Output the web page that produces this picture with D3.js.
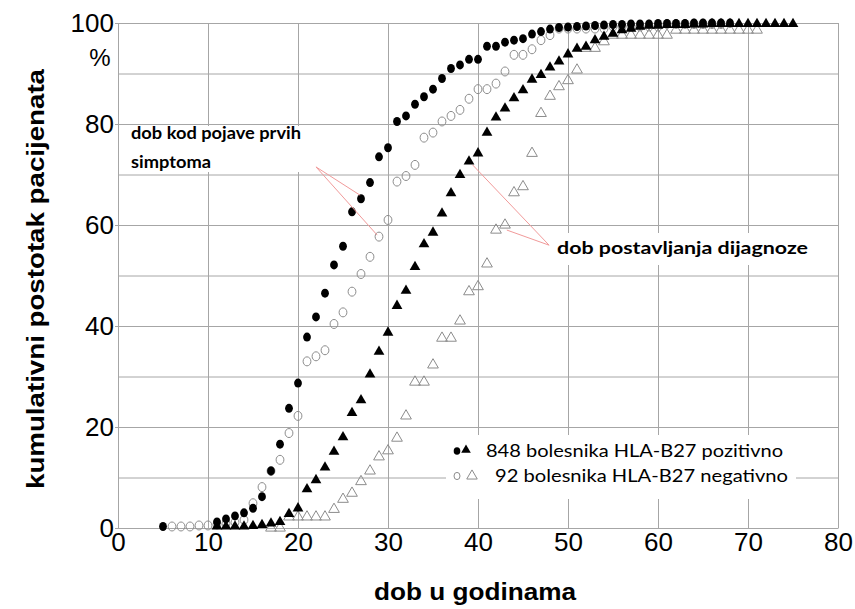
<!DOCTYPE html>
<html lang="hr">
<head>
<meta charset="UTF-8">
<title>Kumulativni postotak pacijenata</title>
<style>
    body { margin: 0; background: #fff; }
    #grafico { width: 855px; height: 609px; display: block; }
    .grid line { stroke: #a6a6a6; stroke-width: 1; }
    .grid path { display: none; }
    .os path, .os line { stroke: #a6a6a6; }
    .os text { font-family: "Liberation Sans", Arial, sans-serif; font-size: 26px; fill: #000; }
    .naslov { font-family: "Liberation Sans", Arial, sans-serif; font-weight: bold; font-size: 24px; }
    .biljeska { font-family: Lato, "Open Sans", sans-serif; font-weight: bold; font-size: 17px; }
    .legenda { font-family: Lato, "Open Sans", sans-serif; font-size: 18px; }
</style>
<script src="https://cdn.jsdelivr.net/npm/d3@7"></script>
</head>
<body>
<svg id="grafico"></svg>
<script>
    // kumulativni postotak po godinama (indeks 0 = pocetna dob)
    const posSimptomiOd = 5;
    const posSimptomi = [
        0.3, null, null, null, null, null,
        1.2, 1.8, 2.4, 3.0, 3.9, 6.2, 11.3, 16.6, 23.7, 28.7,
        37.8, 41.8, 46.5, 52.1, 55.8, 62.6, 65.2, 68.4, 73.5, 75.3,
        80.5, 81.6, 83.9, 85.4, 86.9, 89.0, 91.0, 91.7, 92.8, 92.8,
        95.4, 95.4, 96.2, 96.6, 96.9, 97.8, 98.3, 98.8, 99.1, 99.2,
        99.3, 99.4, 99.5, 99.6, 99.7, 99.7, 99.8, 99.8, 99.8, 99.9,
        99.9, 99.9, 99.9, 100, 100, 100, 100, 100
    ];

    const negSimptomiOd = 6;
    const negSimptomi = [
        0.3, 0.3, 0.3, 0.5, 0.5,
        0.7, 0.9, 1.1, 1.6, 4.9, 8.1, 11.3, 13.5, 18.8, 22.2,
        33.0, 34.0, 35.2, 40.4, 42.7, 46.8, 50.3, 53.7, 57.7, 61.0,
        68.6, 69.7, 71.9, 77.3, 78.3, 80.5, 81.6, 82.8, 85.0, 86.9,
        86.9, 88.0, 90.4, 93.7, 93.7, 94.8, 96.6, 97.6, 98.9, 98.9,
        98.9, 98.9, 98.9, 98.9, 99.3, 99.3, 99.3, 99.3, 99.3, 99.3,
        99.8, 99.8, 99.8, 99.8, 99.8, 99.8, 99.8
    ];

    const posDijagnozaOd = 11;
    const posDijagnoza = [
        0.3, 0.3, 0.3, 0.3, 0.4, 0.6, 0.9, 1.2, 2.8, 3.9,
        7.7, 9.5, 12.0, 15.1, 18.0, 22.8, 25.3, 30.4, 34.9, 38.7,
        44.0, 47.0, 51.7, 56.2, 58.5, 62.3, 66.3, 69.9, 72.6, 74.2,
        78.3, 81.3, 83.1, 85.1, 86.7, 88.8, 89.7, 91.2, 92.4, 93.8,
        94.9, 95.3, 96.6, 97.3, 97.9, 98.6, 98.9, 99.3, 99.5, 99.5,
        99.6, 99.6, 99.6, 99.7, 99.7, 99.8, 99.8, 99.8, 99.8, 99.8,
        99.8, 99.8, 99.8, 99.8, 99.8
    ];

    const negDijagnozaOd = 17;
    const negDijagnoza = [
        0, 0, 2.2, 2.2,
        2.2, 2.2, 2.2, 3.7, 5.7, 6.9, 9.2, 11.3, 14.1, 15.3,
        17.8, 22.2, 28.9, 28.9, 32.3, 37.6, 37.6, 41.0, 46.8, 47.8,
        52.3, 59.0, 60.0, 66.4, 67.6, 74.2, 82.1, 85.5, 87.4, 88.6,
        90.7, 95.0, 95.0, 96.3, 97.6, 97.6, 97.6, 97.6, 97.6, 97.6,
        97.6, 98.6, 98.6, 98.6, 98.6, 98.6, 98.6, 98.6, 98.6, 98.6, 98.6
    ];

    const xOznake = [0, 10, 20, 30, 40, 50, 60, 70, 80];
    const yOznake = [0, 20, 40, 60, 80, 100];
    const legendaTekst = ['848 bolesnika HLA-B27 pozitivno', '92 bolesnika HLA-B27 negativno'];

    let svg = d3.select('#grafico');
    let fnX = d3.scaleLinear().domain([0, 80]).range([118, 838]);
    let fnY = d3.scaleLinear().domain([0, 100]).range([528, 23]);

    let tocke = (od, vrijednosti) => vrijednosti
        .map((v, i) => ({ dob: od + i, v: v }))
        .filter(d => d.v !== null);

    // mreza
    svg.append('g').classed('grid', true)
        .attr('transform', `translate(${fnX(0)},0)`)
        .call(d3.axisLeft(fnY).ticks(10).tickSize(-(fnX(80) - fnX(0))).tickFormat(''));
    svg.append('g').classed('grid', true)
        .attr('transform', `translate(0,${fnY(0)})`)
        .call(d3.axisBottom(fnX).ticks(8).tickSize(-(fnY(0) - fnY(100))).tickFormat(''));

    // osi
    svg.append('g').classed('os', true)
        .attr('transform', `translate(${fnX(0)},0)`)
        .call(d3.axisLeft(fnY).tickValues(yOznake).tickSize(3).tickPadding(1));
    svg.append('g').classed('os', true)
        .attr('transform', `translate(0,${fnY(0)})`)
        .call(d3.axisBottom(fnX).tickValues(xOznake).tickSize(0).tickPadding(5));

    svg.append('text').text('%')
        .attr('x', 100).attr('y', 66)
        .attr('text-anchor', 'middle')
        .style('font-family', '"Liberation Sans", Arial, sans-serif')
        .style('font-size', '24px');

    svg.append('text').classed('naslov', true)
        .text('dob u godinama')
        .attr('x', 475).attr('y', 600)
        .attr('text-anchor', 'middle')
        .attr('textLength', 202).attr('lengthAdjust', 'spacingAndGlyphs');
    svg.append('text').classed('naslov', true)
        .text('kumulativni postotak pacijenata')
        .attr('transform', 'translate(44,279) rotate(-90)')
        .attr('text-anchor', 'middle')
        .attr('textLength', 420).attr('lengthAdjust', 'spacingAndGlyphs');

    // bijele pozadine za biljeske
    svg.append('rect').attr('x', 126).attr('y', 126).attr('width', 180).attr('height', 46).attr('fill', '#fff');
    svg.append('rect').attr('x', 552).attr('y', 233).attr('width', 262).attr('height', 32).attr('fill', '#fff');
    svg.append('rect').attr('x', 446).attr('y', 435).attr('width', 350).attr('height', 64).attr('fill', '#fff');

    // tocke
    let trokut = d3.symbol().type(d3.symbolTriangle).size(50);

    svg.selectAll('.negSimp')
        .data(tocke(negSimptomiOd, negSimptomi))
        .enter().append('ellipse')
        .attr('cx', d => fnX(d.dob)).attr('cy', d => fnY(d.v))
        .attr('rx', 3.9).attr('ry', 4.5)
        .attr('fill', 'none').attr('stroke', '#8c8c8c').attr('stroke-width', 1);

    svg.selectAll('.posSimp')
        .data(tocke(posSimptomiOd, posSimptomi))
        .enter().append('ellipse')
        .attr('cx', d => fnX(d.dob)).attr('cy', d => fnY(d.v))
        .attr('rx', 3.9).attr('ry', 4.5)
        .attr('fill', '#000');

    svg.selectAll('.negDij')
        .data(tocke(negDijagnozaOd, negDijagnoza))
        .enter().append('path')
        .attr('d', trokut)
        .attr('transform', d => `translate(${fnX(d.dob)},${fnY(d.v)})`)
        .attr('fill', 'none').attr('stroke', '#8c8c8c').attr('stroke-width', 1);

    svg.selectAll('.posDij')
        .data(tocke(posDijagnozaOd, posDijagnoza))
        .enter().append('path')
        .attr('d', trokut)
        .attr('transform', d => `translate(${fnX(d.dob)},${fnY(d.v)})`)
        .attr('fill', '#000');

    // biljeske s crvenim linijama
    let linije = [
        [22, 71.5, 26.9, 65.9], [22, 71.5, 28.8, 58],
        [47.9, 56, 39.4, 71.9], [47.9, 56, 43.2, 59]
    ];
    svg.selectAll('.linija')
        .data(linije)
        .enter().append('line')
        .attr('x1', d => fnX(d[0])).attr('y1', d => fnY(d[1]))
        .attr('x2', d => fnX(d[2])).attr('y2', d => fnY(d[3]))
        .attr('stroke', '#f19a9a').attr('stroke-width', 1);

    svg.append('text').classed('biljeska', true).text('dob kod pojave prvih')
        .attr('x', 131).attr('y', 139).attr('textLength', 170).attr('lengthAdjust', 'spacingAndGlyphs');
    svg.append('text').classed('biljeska', true).text('simptoma')
        .attr('x', 131).attr('y', 168).attr('textLength', 80).attr('lengthAdjust', 'spacingAndGlyphs');
    svg.append('text').classed('biljeska', true).text('dob postavljanja dijagnoze')
        .attr('x', 557).attr('y', 254).attr('textLength', 251).attr('lengthAdjust', 'spacingAndGlyphs');

    // legenda
    svg.append('ellipse').attr('cx', 457).attr('cy', 451).attr('rx', 3.3).attr('ry', 3.8).attr('fill', '#000');
    svg.append('path').attr('d', d3.symbol().type(d3.symbolTriangle).size(40))
        .attr('transform', 'translate(466,450)').attr('fill', '#000');
    svg.append('ellipse').attr('cx', 457).attr('cy', 476).attr('rx', 3).attr('ry', 3.6)
        .attr('fill', 'none').attr('stroke', '#8c8c8c');
    svg.append('path').attr('d', d3.symbol().type(d3.symbolTriangle).size(48))
        .attr('transform', 'translate(472,476)').attr('fill', 'none').attr('stroke', '#8c8c8c');

    svg.append('text').classed('legenda', true).text(legendaTekst[0])
        .attr('x', 486).attr('y', 457).attr('textLength', 297).attr('lengthAdjust', 'spacingAndGlyphs');
    svg.append('text').classed('legenda', true).text(legendaTekst[1])
        .attr('x', 495).attr('y', 482).attr('textLength', 293).attr('lengthAdjust', 'spacingAndGlyphs');
</script>
</body>
</html>
